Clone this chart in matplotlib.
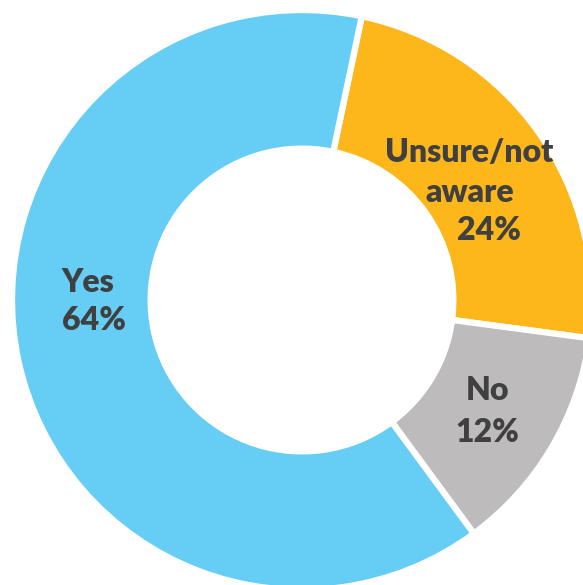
import matplotlib.pyplot as plt

# survey answers, clockwise from the top
names = ['Unsure/not\naware', 'No', 'Yes']
pcts = ['24%', '12%', '64%']
# slice sizes as drawn in the picture (angles)
shares = [23.8, 12.8, 63.4]
colors = ['#FDB71A', '#BDBBBC', '#66CDF5']

plt.rcParams['font.family'] = ['Lato', 'DejaVu Sans']

fig = plt.figure(figsize=(5.83, 5.85), dpi=100)
ax = fig.add_axes([0, 0, 1, 1])

wedges, _ = ax.pie(shares, colors=colors, startangle=78.1, counterclock=False,
                   radius=1, wedgeprops=dict(width=0.478, edgecolor='white', linewidth=4.5))

# label placement (data units, centre of the ring = 0,0)
name_xy = [(0.577, 0.476), (0.638, -0.345), (-0.828, 0.028)]
pct_xy = [(0.645, 0.207), (0.64, -0.490), (-0.828, -0.103)]
aligns = ['center', 'center', 'left']
txt = dict(fontsize=23, fontweight='heavy', color='#404040', va='baseline')

for n, p, nxy, pxy, ha in zip(names, pcts, name_xy, pct_xy, aligns):
    lines = n.split('\n')
    for i, line in enumerate(lines):
        ax.text(nxy[0], nxy[1] - i * 0.138, line, ha=ha, **txt)
    ax.text(pxy[0], pxy[1], p, ha=ha, **txt)

ax.set_aspect('auto')
ax.set_xlim(-302 / 290, 281 / 290)
ax.set_ylim(-285 / 290, 300 / 290)
ax.axis('off')

plt.savefig('out.png')
